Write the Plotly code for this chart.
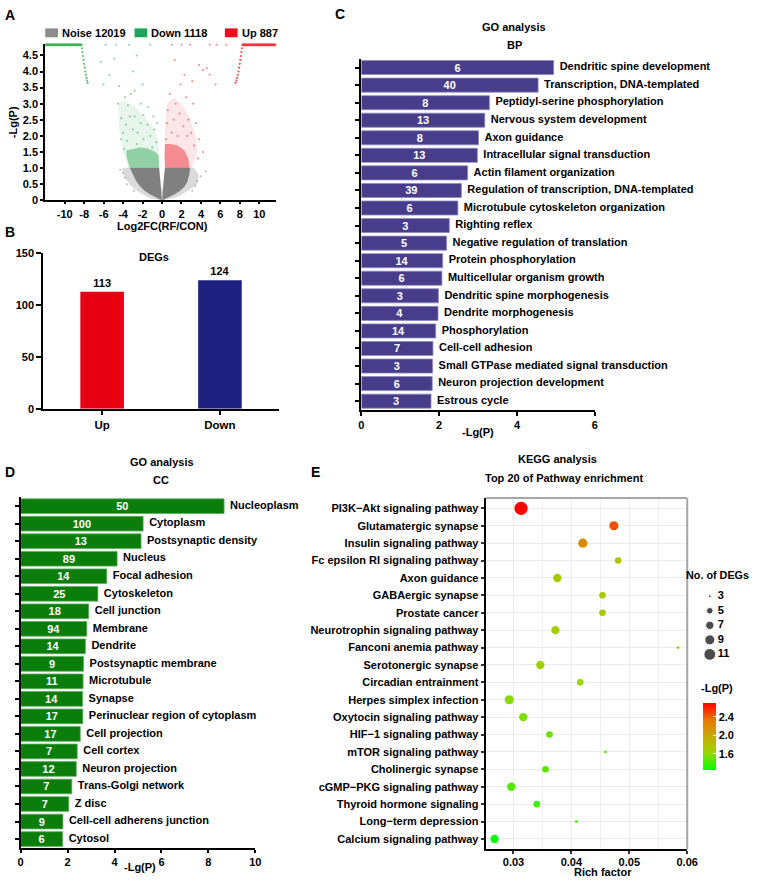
import numpy as np
import plotly.graph_objects as go

W, H = 763, 883
FONT = "Liberation Sans, Arial, Helvetica, sans-serif"

# ================= DATA =================
# ---- Panel A: volcano plot (outlines of dense clouds + sparse points)
noise_total, down_total, up_total = 12019, 1118, 887
a_xticks = [-10, -8, -6, -4, -2, 0, 2, 4, 6, 8, 10]
a_yticks = [0, 0.5, 1.0, 1.5, 2.0, 2.5, 3.0, 3.5, 4.0, 4.5]
a_yticktext = ["0", "0.5", "1.0", "1.5", "2.0", "2.5", "3.0", "3.5", "4.0", "4.5"]

noise_halo_x = [0.0, -1.0, -2.2, -3.2, -3.9, -4.1, -3.4, -0.3, 0.0, 0.3, 3.2, 3.8, 3.6, 2.6, 1.4, 0.0]
noise_halo_y = [0.0, 0.04, 0.22, 0.45, 0.75, 1.0, 1.02, 1.02, 0.3, 1.02, 1.02, 0.8, 0.5, 0.28, 0.08, 0.0]
noise_left_x = [-0.02, -0.6, -1.2, -1.8, -2.3, -2.7, -3.0, -3.3, -0.3, -0.06]
noise_left_y = [0.0, 0.08, 0.18, 0.3, 0.45, 0.62, 0.8, 1.0, 1.0, 0.2]
noise_right_x = [0.02, 0.6, 1.2, 1.8, 2.3, 2.6, 2.8, 2.9, 0.3, 0.06]
noise_right_y = [0.0, 0.08, 0.17, 0.28, 0.42, 0.58, 0.8, 1.0, 1.0, 0.2]
noise_pts_x = [-4.0, -3.6, -3.8, 3.6, 3.4, 4.5, -2.9, 3.1, -4.3, 4.0]
noise_pts_y = [0.85, 0.5, 0.7, 0.6, 0.45, 0.9, 0.3, 0.3, 0.95, 0.75]

down_core_x = [-3.3, -3.6, -3.7, -3.0, -2.2, -1.4, -0.7, -0.35, -0.3]
down_core_y = [1.0, 1.3, 1.55, 1.6, 1.65, 1.6, 1.5, 1.4, 1.0]
down_halo_x = [-3.4, -4.0, -4.4, -4.5, -3.8, -2.8, -1.8, -1.0, -0.5, -0.3, -0.3]
down_halo_y = [1.0, 1.5, 2.2, 3.0, 3.1, 2.9, 2.6, 2.3, 2.0, 1.6, 1.0]
down_top_x = [-11.9, -11.75, -11.6, -11.45, -11.3, -11.15, -11.0, -10.85, -10.7, -10.55, -10.4,
              -10.25, -10.1, -9.95, -9.8, -9.65, -9.5, -9.35, -9.2, -9.05, -8.9, -8.75, -8.6,
              -8.45, -8.3]
down_diag_x = [-8.22, -8.18, -8.12, -8.06, -8.0, -7.94, -7.88, -7.82, -7.76, -7.7, -7.64]
down_diag_y = [4.72, 4.6, 4.48, 4.36, 4.24, 4.12, 4.0, 3.9, 3.8, 3.72, 3.65]
down_pts_x = [-4.9, -5.4, -4.4, -6.3, -5.8, -4.7, -3.4, -1.2, -2.6, -3.0, -4.5, -3.5, -2.2, -1.9,
              -4.2, -3.7, -1.5, -2.8, -3.2, -2.0, -4.0, -3.0, -2.5, -1.2, -0.8, -4.2, -3.6, -1.9,
              -0.6, -3.9, -2.6, -1.0, -2.2, -3.3, -1.4, -0.9, -0.5, -2.8, -3.8, -6.0]
down_pts_y = [4.4, 3.9, 3.55, 4.3, 4.83, 4.83, 4.83, 4.83, 4.5, 4.0, 3.0, 2.95, 3.0, 2.65,
              2.55, 2.35, 2.35, 2.6, 3.3, 3.6, 2.1, 2.2, 2.1, 2.0, 2.2, 1.9, 1.85, 1.9,
              1.8, 1.6, 1.75, 1.65, 2.4, 2.6, 2.9, 2.6, 2.4, 3.4, 3.2, 3.6]

up_core_x = [0.3, 0.25, 0.3, 0.9, 1.6, 2.3, 2.7, 2.8]
up_core_y = [1.0, 1.4, 1.75, 1.75, 1.7, 1.55, 1.3, 1.0]
up_halo_x = [0.3, 0.3, 0.5, 1.2, 2.0, 2.8, 3.5, 3.6, 3.0]
up_halo_y = [1.0, 2.2, 3.0, 3.2, 3.0, 2.6, 2.0, 1.4, 1.0]
up_top_x = [8.3, 8.45, 8.6, 8.75, 8.9, 9.05, 9.2, 9.35, 9.5, 9.65, 9.8, 9.95, 10.1, 10.25,
            10.4, 10.55, 10.7, 10.85, 11.0, 11.15, 11.3, 11.45, 11.6]
up_diag_x = [8.22, 8.16, 8.1, 8.04, 7.98, 7.92, 7.86, 7.8, 7.72, 7.64, 7.55]
up_diag_y = [4.72, 4.6, 4.48, 4.36, 4.24, 4.12, 4.0, 3.9, 3.8, 3.72, 3.65]
up_pts_x = [1.0, 2.0, 2.9, 4.9, 5.6, 6.6, 1.3, 3.8, 4.2, 4.6, 4.9, 5.5, 2.3, 1.9, 3.1, 0.8,
            1.4, 2.5, 3.2, 0.6, 1.8, 2.7, 3.5, 0.5, 1.2, 2.2, 3.0, 3.8, 1.0, 1.6, 2.6, 0.4,
            3.3, 4.2, 3.7]
up_pts_y = [4.83, 4.83, 4.83, 4.83, 4.83, 4.83, 4.35, 4.2, 4.05, 4.1, 3.9, 3.6, 3.9, 3.6, 3.7, 3.3,
            3.0, 3.2, 3.0, 2.8, 2.7, 2.5, 2.4, 2.4, 2.5, 2.3, 2.1, 1.9, 2.1, 2.0, 2.0, 1.9,
            1.7, 1.5, 1.3]
top_cap = 4.83

# ---- Panel B: DEG counts
deg_groups = ["Up", "Down"]
deg_counts = [113, 124]
b_yticks = [0, 50, 100, 150]

# ---- Panel C: GO BP
bp_terms = ["Dendritic spine development", "Transcription, DNA-templated",
            "Peptidyl-serine phosphorylation", "Nervous system development",
            "Axon guidance", "Intracellular signal transduction",
            "Actin filament organization", "Regulation of transcription, DNA-templated",
            "Microtubule cytoskeleton organization", "Righting reflex",
            "Negative regulation of translation", "Protein phosphorylation",
            "Multicellular organism growth", "Dendritic spine morphogenesis",
            "Dendrite morphogenesis", "Phosphorylation", "Cell-cell adhesion",
            "Small GTPase mediated signal transduction", "Neuron projection development",
            "Estrous cycle"]
bp_lgp = [4.94, 4.54, 3.29, 3.17, 3.01, 2.98, 2.73, 2.57, 2.48, 2.26,
          2.19, 2.09, 2.07, 1.98, 1.97, 1.91, 1.84, 1.83, 1.82, 1.79]
bp_counts = [6, 40, 8, 13, 8, 13, 6, 39, 6, 3, 5, 14, 6, 3, 4, 14, 7, 3, 6, 3]
c_xticks = [0, 2, 4, 6]

# ---- Panel D: GO CC
cc_terms = ["Nucleoplasm", "Cytoplasm", "Postsynaptic density", "Nucleus", "Focal adhesion",
            "Cytoskeleton", "Cell junction", "Membrane", "Dendrite", "Postsynaptic membrane",
            "Microtubule", "Synapse", "Perinuclear region of cytoplasm", "Cell projection",
            "Cell cortex", "Neuron projection", "Trans-Golgi network", "Z disc",
            "Cell-cell adherens junction", "Cytosol"]
cc_lgp = [8.67, 5.22, 5.13, 4.11, 3.67, 3.29, 2.90, 2.82, 2.76, 2.68,
          2.66, 2.64, 2.65, 2.54, 2.41, 2.37, 2.18, 2.05, 1.80, 1.79]
cc_counts = [50, 100, 13, 89, 14, 25, 18, 94, 14, 9, 11, 14, 17, 17, 7, 12, 7, 7, 9, 6]
d_xticks = [0, 2, 4, 6, 8, 10]

# ---- Panel E: KEGG
kegg_paths = ["PI3K\u2212Akt signaling pathway", "Glutamatergic synapse", "Insulin signaling pathway",
              "Fc epsilon RI signaling pathway", "Axon guidance", "GABAergic synapse",
              "Prostate cancer", "Neurotrophin signaling pathway", "Fanconi anemia pathway",
              "Serotonergic synapse", "Circadian entrainment", "Herpes simplex infection",
              "Oxytocin signaling pathway", "HIF\u22121 signaling pathway", "mTOR signaling pathway",
              "Cholinergic synapse", "cGMP\u2212PKG signaling pathway", "Thyroid hormone signaling",
              "Long\u2212term depression", "Calcium signaling pathway"]
kegg_rich = [0.03131, 0.04734, 0.04198, 0.04808, 0.03758, 0.04537, 0.04537, 0.03724, 0.05842,
             0.03463, 0.04153, 0.02927, 0.03169, 0.03622, 0.04588, 0.03554, 0.02961, 0.03402,
             0.04085, 0.02673]
kegg_counts = [13, 8, 8, 5, 7, 5, 5, 7, 3, 7, 5, 8, 7, 5, 3, 5, 7, 5, 3, 7]
kegg_lgp = [2.70, 2.45, 2.20, 1.78, 1.74, 1.72, 1.71, 1.70, 1.69, 1.66,
            1.62, 1.58, 1.54, 1.50, 1.48, 1.46, 1.44, 1.41, 1.38, 1.25]
e_xticks = [0.03, 0.04, 0.05, 0.06]
size_legend_counts = [3, 5, 7, 9, 11]
cbar_ticks = [1.6, 2.0, 2.4]

# ================= STYLE HELPERS =================
def px(x):
    return x / W

def py(y):
    return 1 - y / H

def bfont(size=11, color="black"):
    return dict(family=FONT, size=size, color=color, weight="bold")

def size_scale(c):
    return np.interp(c, [3, 5, 7, 9, 11, 13], [2.8, 6.6, 8.3, 10.0, 11.8, 13.3])

# approximate ggplot green->red gradient (Lab interpolation)
gg_scale = [[0.0, "#00FF00"], [0.25, "#98D700"], [0.5, "#C9AB00"], [0.75, "#E87600"], [1.0, "#FF0000"]]

def axis(**kw):
    base = dict(showline=True, linecolor="black", linewidth=2, ticks="outside",
                tickcolor="black", tickwidth=1.5, ticklen=4, showgrid=False, zeroline=False,
                tickfont=bfont(11), fixedrange=True)
    base.update(kw)
    return base

GRAY = "#8C8C8C"
GREEN = "#1FA55A"
RED = "#E6101E"

fig = go.Figure()

# ================= PANEL A =================
def poly(xs, ys, color, ax="x", ay="y"):
    fig.add_trace(go.Scatter(x=xs, y=ys, fill="toself", fillcolor=color, mode="lines",
                             line=dict(width=0), hoverinfo="skip", showlegend=False,
                             xaxis=ax, yaxis=ay))

def pts(xs, ys, color, size=2.2):
    fig.add_trace(go.Scatter(x=xs, y=ys, mode="markers", marker=dict(size=size, color=color),
                             showlegend=False, cliponaxis=False, hoverinfo="skip"))

poly(noise_halo_x, noise_halo_y, "rgba(140,140,140,0.32)")
poly(noise_left_x, noise_left_y, "rgb(128,128,128)")
poly(noise_right_x, noise_right_y, "rgb(128,128,128)")
pts(noise_pts_x, noise_pts_y, "rgba(140,140,140,0.6)", 2)

poly(down_halo_x, down_halo_y, "rgba(40,165,80,0.11)")
poly(down_core_x, down_core_y, "rgba(40,165,80,0.45)")
pts(down_top_x, [top_cap] * len(down_top_x), "rgba(40,165,70,0.75)", 3)
pts(down_diag_x, down_diag_y, "rgba(40,165,70,0.75)", 2.2)
pts(down_pts_x, down_pts_y, "rgba(40,165,70,0.55)", 2)

poly(up_halo_x, up_halo_y, "rgba(235,30,40,0.11)")
poly(up_core_x, up_core_y, "rgba(235,30,40,0.45)")
pts(up_top_x, [top_cap] * len(up_top_x), "rgba(235,30,40,0.75)", 3)
pts(up_diag_x, up_diag_y, "rgba(235,30,40,0.75)", 2.2)
pts(up_pts_x, up_pts_y, "rgba(235,30,40,0.55)", 2)

# ================= PANEL B =================
fig.add_trace(go.Bar(x=deg_groups, y=deg_counts, marker=dict(color=["#E60012", "#1E2180"],
                     line=dict(width=0)), width=0.37, text=[str(v) for v in deg_counts],
                     textposition="outside", textfont=bfont(11), cliponaxis=False,
                     constraintext="none", xaxis="x2", yaxis="y2", showlegend=False))

# ================= PANEL C =================
fig.add_trace(go.Bar(y=bp_terms, x=bp_lgp, orientation="h", width=0.8,
                     marker=dict(color="#483D8B", line=dict(color="#8F88BE", width=0.8)),
                     text=[str(c) for c in bp_counts], textposition="inside",
                     insidetextanchor="middle", textfont=bfont(11, "white"), textangle=0,
                     constraintext="none", xaxis="x3", yaxis="y3", showlegend=False))
fig.add_trace(go.Scatter(y=bp_terms, x=bp_lgp, mode="markers+text", text=bp_terms,
                         marker=dict(size=8, color="rgba(0,0,0,0)"),
                         textposition="middle right", textfont=bfont(11), cliponaxis=False,
                         hoverinfo="skip", xaxis="x3", yaxis="y3", showlegend=False))

# ================= PANEL D =================
fig.add_trace(go.Bar(y=cc_terms, x=cc_lgp, orientation="h", width=0.84,
                     marker=dict(color="#0B7D0B", line=dict(color="#5FAE5F", width=0.8)),
                     text=[str(c) for c in cc_counts], textposition="inside",
                     insidetextanchor="middle", textfont=bfont(11, "white"), textangle=0,
                     constraintext="none", xaxis="x4", yaxis="y4", showlegend=False))
fig.add_trace(go.Scatter(y=cc_terms, x=cc_lgp, mode="markers+text", text=cc_terms,
                         marker=dict(size=8, color="rgba(0,0,0,0)"),
                         textposition="middle right", textfont=bfont(11), cliponaxis=False,
                         hoverinfo="skip", xaxis="x4", yaxis="y4", showlegend=False))

# ================= PANEL E =================
fig.add_trace(go.Scatter(
    x=kegg_rich, y=kegg_paths, mode="markers",
    marker=dict(size=size_scale(kegg_counts), color=kegg_lgp, colorscale=gg_scale,
                cmin=1.25, cmax=2.70, line=dict(width=0), opacity=1,
                showscale=True,
                colorbar=dict(x=px(712.7), xanchor="left", y=py(706.7), yanchor="top",
                              len=66.6, lenmode="pixels", thickness=13.3,
                              thicknessmode="pixels", xpad=0, ypad=0, outlinewidth=0,
                              tickvals=cbar_ticks, ticktext=[f"{t:.1f}" for t in cbar_ticks],
                              ticks="inside", ticklen=3, tickcolor="white",
                              tickfont=bfont(11))),
    xaxis="x5", yaxis="y5", showlegend=False, cliponaxis=False))

# size legend
fig.add_trace(go.Scatter(x=[0.5] * len(size_legend_counts), y=list(range(len(size_legend_counts))),
                         mode="markers", marker=dict(size=size_scale(size_legend_counts), color="black"),
                         xaxis="x6", yaxis="y6", showlegend=False, cliponaxis=False))
fig.add_trace(go.Scatter(x=[1.0] * len(size_legend_counts), y=list(range(len(size_legend_counts))),
                         mode="text", text=[str(c) for c in size_legend_counts],
                         textposition="middle right", textfont=bfont(11),
                         xaxis="x6", yaxis="y6", showlegend=False, cliponaxis=False))

# ================= LAYOUT =================
layout = dict(
    width=W, height=H, margin=dict(l=0, r=0, t=0, b=0),
    paper_bgcolor="white", plot_bgcolor="rgba(0,0,0,0)",
    font=dict(family=FONT, size=11, color="black", weight="bold"),
    showlegend=False,
    xaxis=axis(domain=[px(43), px(278)], range=[-12, 11.7], tickvals=a_xticks,
               ticktext=[str(v) for v in a_xticks], anchor="y", ticklen=2),
    yaxis=axis(domain=[py(197), py(39)], range=[0, 4.84], tickvals=a_yticks,
               ticktext=a_yticktext, anchor="x", ticklen=3),
    xaxis2=axis(domain=[px(41), px(281)], range=[-0.5, 1.5], anchor="y2", ticklen=4,
                tickfont=bfont(11.5)),
    yaxis2=axis(domain=[py(408.3), py(250.7)], range=[0, 150], tickvals=b_yticks, anchor="x2",
                ticklen=5),
    xaxis3=axis(domain=[px(365), px(603)], range=[0, 6], tickvals=c_xticks, anchor="y3"),
    yaxis3=axis(domain=[py(409.5), py(53.5)], type="category", categoryarray=bp_terms,
                range=[19.5, -0.5], showticklabels=False, anchor="x3"),
    xaxis4=axis(domain=[px(18), px(257)], range=[0, 10], tickvals=d_xticks, anchor="y4",
                ticklen=3),
    yaxis4=axis(domain=[py(853.4), py(498.2)], type="category", categoryarray=cc_terms,
                range=[19.5, -0.5], showticklabels=False, anchor="x4"),
    xaxis5=axis(domain=[px(491.7), px(697)], range=[0.0252, 0.0600], tickvals=e_xticks,
                ticktext=[f"{v:.2f}" for v in e_xticks], anchor="y5", ticklen=3,
                ticklabelstandoff=-2,
                tickcolor="#333333", showgrid=True, gridcolor="#EBEBEB", gridwidth=1.2,
                minor=dict(dtick=0.005, tick0=0.03, showgrid=True, gridcolor="#EFEFEF",
                           gridwidth=0.8, ticks="")),
    yaxis5=axis(domain=[py(855), py(498.7)], type="category", categoryarray=kegg_paths,
                range=[19.6, -0.6], anchor="x5", ticklen=3, tickcolor="#333333",
                showgrid=True, gridcolor="#EBEBEB", gridwidth=1.2),
    xaxis6=dict(domain=[px(712), px(728)], range=[0, 1], visible=False, anchor="y6",
                fixedrange=True),
    yaxis6=dict(domain=[py(664.7), py(591)], range=[4.5, -0.5], visible=False, anchor="x6",
                fixedrange=True),
)
fig.update_layout(**layout)

# gray panel border on top/right of E
fig.add_shape(type="line", xref="x5 domain", yref="y5 domain", x0=0, x1=1, y0=1, y1=1,
              line=dict(color="#A6A6A6", width=2))
fig.add_shape(type="line", xref="x5 domain", yref="y5 domain", x0=1, x1=1, y0=0, y1=1,
              line=dict(color="#A6A6A6", width=2))

# legend swatches for A
for (x0, col) in [(43, GRAY), (134, GREEN), (226, RED)]:
    fig.add_shape(type="rect", xref="paper", yref="paper", x0=px(x0), x1=px(x0 + 13),
                  y0=py(31.7), y1=py(22.7), fillcolor=col, line=dict(width=0))

def ann(text, x, y, size=11, xanchor="center", angle=0, color="black"):
    fig.add_annotation(text=text, x=px(x), y=py(y), xref="paper", yref="paper",
                       xanchor=xanchor, yanchor="middle", showarrow=False,
                       textangle=angle, font=bfont(size, color))

ann(f"Noise {noise_total}", 58.5, 27, xanchor="left")
ann(f"Down {down_total}", 149, 27, xanchor="left")
ann(f"Up {up_total}", 241, 27, xanchor="left")

# panel letters
ann("A", 7, 9, 14)
ann("B", 7, 229.5, 14)
ann("C", 343, 8, 14)
ann("D", 7, 472, 14)
ann("E", 318, 472, 14)

# titles and axis titles
ann("-Lg(P)", 11, 118, angle=-90)
ann("Log2FC(RF/CON)", 162, 223)
ann("DEGs", 154, 254)
ann("GO analysis", 521, 21)
ann("BP", 521, 40)
ann("-Lg(P)", 484, 432)
ann("GO analysis", 162, 462)
ann("CC", 161, 481)
ann("-Lg(P)", 140, 873)
ann("KEGG analysis", 565, 459.5)
ann("Top 20 of Pathway enrichment", 571, 479)
ann("Rich factor", 611, 877.5)
ann("No. of DEGs", 728, 577, 10.8)
ann("-Lg(P)", 727.5, 691.5)

fig.write_html("out.html", config=dict(displayModeBar=False),
               post_script="document.body.style.margin='0';document.body.style.overflow='hidden';")
